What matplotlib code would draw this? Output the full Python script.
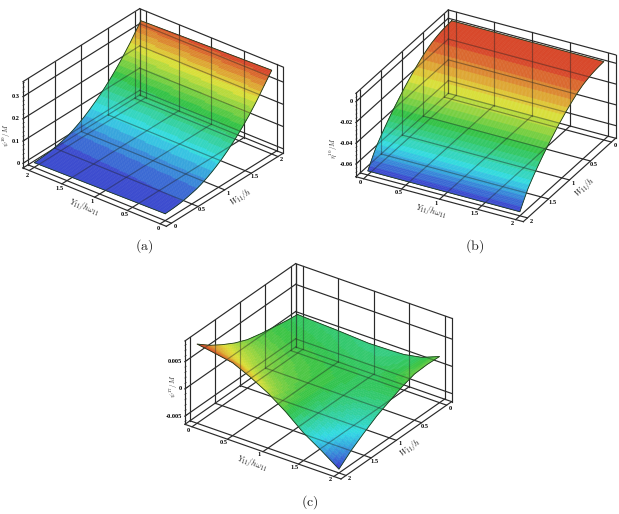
import numpy as np
import matplotlib
matplotlib.use("Agg")
import matplotlib.pyplot as plt
from matplotlib.colors import LinearSegmentedColormap
from matplotlib.patches import Polygon
from mpl_toolkits.mplot3d import proj3d

FIG_W, FIG_H = 619, 514
plt.rcParams["mathtext.fontset"] = "cm"

TICKS = [0, 0.5, 1, 1.5, 2]
TICK_LABELS = ["0", "0.5", "1", "1.5", "2"]

# surface samples at W = 0, 0.1, ... 2
W_FINE = np.arange(21) * 0.1
A_Y0 = [.010, .011, .013, .016, .021, .027, .034, .044, .056, .070, .086,
        .104, .124, .146, .170, .196, .224, .255, .288, .322, .356]
A_Y2 = [.000, .001, .003, .006, .011, .017, .024, .034, .046, .060, .076,
        .094, .113, .134, .157, .182, .209, .239, .270, .304, .339]
B_ALL = [.0032, .0030, .0025, .0017, .0005, -.0010, -.0032, -.0058, -.0088, -.0120, -.0155,
         -.0192, -.0232, -.0275, -.0318, -.0365, -.0415, -.0468, -.0525, -.0600, -.0683]

# panel c: rows are W = 0, 0.25, ... 2, columns are Y = 0, 0.25, ... 2 (in 1e-3)
W_COARSE = np.arange(9) * 0.25
C_TABLE = [
    [.56, .38, .25, .05, -.15, -.08, .06, .68, 1.97],
    [.90, .75, .60, .40, .20, .10, .20, .80, 2.10],
    [1.35, 1.20, 1.00, .80, .60, .50, .60, 1.00, 1.97],
    [1.80, 1.60, 1.40, 1.20, 1.00, .90, .70, .80, 1.20],
    [2.40, 2.20, 1.90, 1.60, 1.30, 1.10, .50, .30, .19],
    [3.40, 3.00, 2.50, 2.00, 1.60, 1.10, .10, -.55, -.90],
    [4.70, 4.00, 3.20, 2.40, 1.90, 1.10, -.26, -1.30, -2.33],
    [6.20, 5.40, 4.50, 3.50, 2.60, 1.20, -.84, -2.40, -3.90],
    [8.04, 7.50, 6.90, 5.40, 3.60, 1.30, -1.41, -3.50, -5.80],
]

RAINBOW = LinearSegmentedColormap.from_list("rainbow5", [
    "#3c3ccd", "#32dce6", "#32c346", "#e1e137", "#d73728"])
LINE = "#2a2a2a"


def refine(table, w, y, n=8):
    """Split every mesh cell so the colour bands can follow z."""
    table = np.asarray(table, float)
    w2 = np.linspace(w[0], w[-1], (len(w) - 1) * n + 1)
    y2 = np.linspace(y[0], y[-1], 41)
    t1 = np.array([np.interp(w2, w, table[:, j]) for j in range(table.shape[1])]).T
    t2 = np.array([np.interp(y2, y, row) for row in t1])
    return w2, y2, t2


def line3(ax, xs, ys, zs, lw=0.85, color=LINE, zorder=1, alpha=None, clip=None):
    ln, = ax.plot(xs, ys, zs, color=color, lw=lw, zorder=zorder, alpha=alpha, clip_on=False)
    if clip is not None:
        ln.set_clip_on(True)
        ln.set_clip_path(clip)


def label3(ax, x, y, z, s, dx, dy, ha="center"):
    x2, y2, _ = proj3d.proj_transform(x, y, z, ax.get_proj())
    ax.annotate(s, (x2, y2), xytext=(dx, dy), textcoords="offset pixels", ha=ha, va="center",
                fontsize=4.6, fontweight="bold", family="Liberation Serif", annotation_clip=False)


def grid_lines(ax, lim, zlim, zticks, wall, **kw):
    lo, hi = lim
    z0, z1 = zlim
    for t in TICKS + [lo, hi]:
        line3(ax, [t, t], [wall, wall], [z0, z1], **kw)
        line3(ax, [wall, wall], [t, t], [z0, z1], **kw)
        line3(ax, [t, t], [lo, hi], [z0, z0], **kw)
        line3(ax, [lo, hi], [t, t], [z0, z0], **kw)
    for t in list(zticks) + [z1]:
        line3(ax, [lo, hi], [wall, wall], [t, t], **kw)
        line3(ax, [wall, wall], [lo, hi], [t, t], **kw)


def panel(fig, table, w, y, elev, azim, lens, center, lim, zlim, zticks, zlabels,
          far_high, y_off, w_off, levels):
    # lens are the projected box edges in pixels, center the box middle
    side = np.linalg.norm(lens) / 1.03
    left = center[0] - 0.5135 * side
    bottom = FIG_H - (center[1] + 0.5135 * side)
    ax = fig.add_axes([left / FIG_W, bottom / FIG_H, side / FIG_W, side / FIG_H], projection="3d")
    ax.set_proj_type("ortho")
    ax.view_init(elev=elev, azim=azim)
    ax.set_box_aspect(lens)
    ax.set_xlim(*lim); ax.set_ylim(*lim); ax.set_zlim(*zlim)
    ax.set_axis_off()
    ax.patch.set_visible(False)
    ax.computed_zorder = False

    lo, hi = lim
    wall, front = (hi, lo) if far_high else (lo, hi)
    z0, z1 = zlim
    grid_lines(ax, lim, zlim, zticks, wall)

    # z axis ticks on the outer upright
    step = (zticks[1] - zticks[0]) / 5
    inward = 1 if front == lo else -1
    for k in np.arange(-12, 30):
        t = zticks[0] + k * step
        if z0 <= t <= z1:
            size = 0.05 if k % 5 == 0 else 0.025
            line3(ax, [front, front + inward * size], [wall, wall], [t, t], lw=0.5)

    # banded surface
    w2, y2, z2 = refine(table, w, y)
    zmin, zmax = z2.min(), z2.max()
    faces = (z2[:-1, :-1] + z2[1:, :-1] + z2[:-1, 1:] + z2[1:, 1:]) / 4
    idx = np.clip(np.floor((faces - zmin) / (zmax - zmin) * levels), 0, levels - 1)
    colors = RAINBOW((idx + 0.5) / levels)
    X, Y = np.meshgrid(w2, y2, indexing="ij")
    ax.plot_surface(X, Y, z2, facecolors=colors, rstride=1, cstride=1, shade=False,
                    linewidth=0.3, antialiased=True, zorder=2, clip_on=False)

    # the box shows faintly through the surface
    ex = np.r_[X[0], X[:, -1], X[-1][::-1], X[:, 0][::-1]]
    ey = np.r_[Y[0], Y[:, -1], Y[-1][::-1], Y[:, 0][::-1]]
    ez = np.r_[z2[0], z2[:, -1], z2[-1][::-1], z2[:, 0][::-1]]
    px, py, _ = proj3d.proj_transform(ex, ey, ez, ax.get_proj())
    outline = Polygon(np.c_[px, py], closed=True, transform=ax.transData)
    grid_lines(ax, lim, zlim, zticks, wall, zorder=3, alpha=0.4, clip=outline)
    line3(ax, ex, ey, ez, lw=0.6, zorder=4, color="#1e3a1e")

    for t, s in zip(TICKS, TICK_LABELS):
        label3(ax, front, t, z0, s, *y_off)
        label3(ax, t, front, z0, s, *w_off)
    for t, s in zip(zticks, zlabels):
        label3(ax, front, wall, t, s, -3, 0, ha="right")
    return ax


def axis_text(fig, x, y, s, rot, size=5.8):
    fig.text(x / FIG_W, 1 - y / FIG_H, s, rotation=rot, rotation_mode="anchor",
             ha="center", va="center", fontsize=size, color="#222222")


fig = plt.figure(figsize=(FIG_W / 100, FIG_H / 100), dpi=100)

panel(fig, np.array([A_Y0, A_Y2]).T, W_FINE, [0, 2], 30.3, -141.1, (185.8, 184.2, 100),
      (153, 117.5), (-0.095, 2.095), (-0.021, 0.3675), [0, 0.1, 0.2, 0.3], ["0", "0.1", "0.2", "0.3"],
      True, (-2.2, -4.5), (3.7, -3.2), 21)
panel(fig, np.array([B_ALL, B_ALL]).T, W_FINE, [0, 2], 29.5, 28.6, (192.9, 190.6, 95.8),
      (485.8, 115.8), (-0.1, 2.1), (-0.0722, 0.008), [-0.06, -0.04, -0.02, 0],
      ["-0.06", "-0.04", "-0.02", "0"], False, (-3.2, -4), (3.7, -3.7), 21)
panel(fig, np.array(C_TABLE) * 1e-3, W_COARSE, W_COARSE, 29.65, 35.3, (191.5, 191.2, 95.9),
      (318.3, 371.3), (-0.1, 2.1), (-0.0065, 0.0088), [-0.005, 0, 0.005],
      ["-0.005", "0", "0.005"], False, (-3.6, -3.3), (3.3, -3.3), 40)

y_label = r"$Y_{11}/h\omega_{11}$"
w_label = r"$W_{11}/h$"
axis_text(fig, 84, 207, y_label, -22)
axis_text(fig, 240.7, 196.7, w_label, 32)
axis_text(fig, 6.5, 135, r"$\psi^{10}/M$", 90, 5)
axis_text(fig, 430.7, 210.7, y_label, -15)
axis_text(fig, 585, 186.7, w_label, 42)
axis_text(fig, 333, 148, r"$\eta^{10}/M$", 90, 5)
axis_text(fig, 251.7, 463.3, y_label, -19)
axis_text(fig, 410, 447.7, w_label, 35)
axis_text(fig, 174, 386.7, r"$\psi^{17}/M$", 90, 5)

for x, y, s in [(144, 246.5, r"$\mathrm{(a)}$"), (475, 246.5, r"$\mathrm{(b)}$"), (309.7, 501.7, r"$\mathrm{(c)}$")]:
    fig.text(x / FIG_W, 1 - y / FIG_H, s, ha="center", va="center", fontsize=10, color="#222222")

fig.savefig("out.png", dpi=100)
